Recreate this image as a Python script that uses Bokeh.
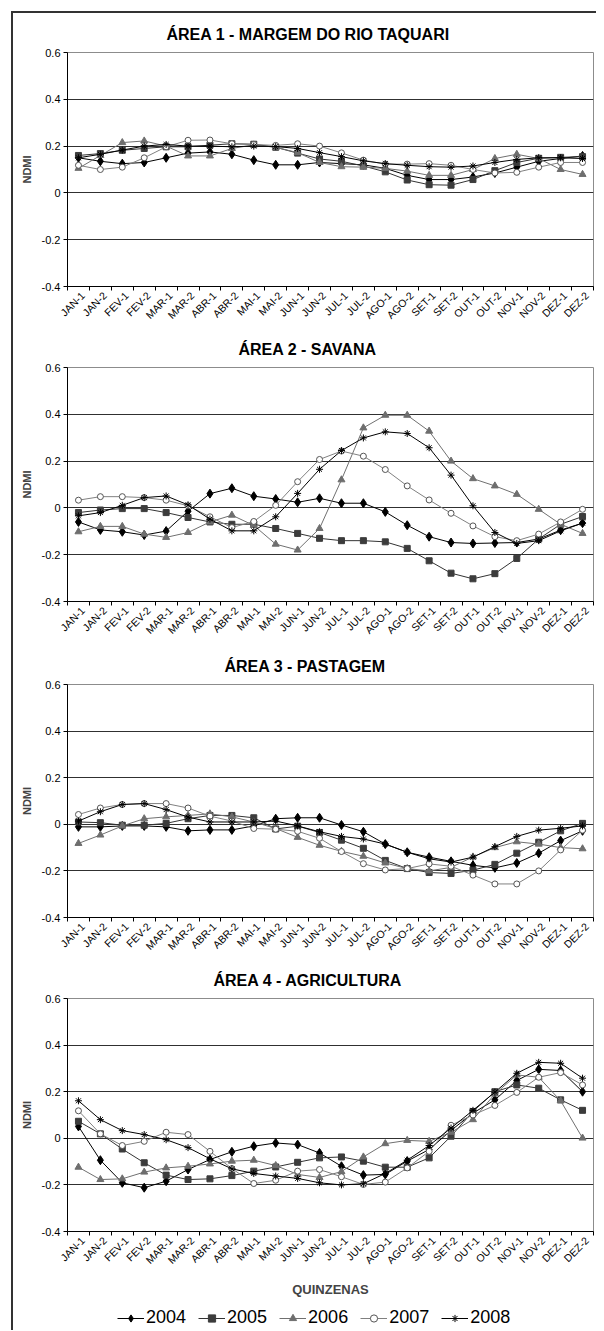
import math
from bokeh.plotting import figure
from bokeh.models import (Range1d, FixedTicker, NumeralTickFormatter, Legend,
                          LegendItem, Title)
from bokeh.layouts import column
from bokeh.embed import file_html
from bokeh.resources import INLINE

quinzenas = ["JAN-1", "JAN-2", "FEV-1", "FEV-2", "MAR-1", "MAR-2", "ABR-1", "ABR-2",
             "MAI-1", "MAI-2", "JUN-1", "JUN-2", "JUL-1", "JUL-2", "AGO-1", "AGO-2",
             "SET-1", "SET-2", "OUT-1", "OUT-2", "NOV-1", "NOV-2", "DEZ-1", "DEZ-2"]
anos = ["2004", "2005", "2006", "2007", "2008"]
y_ticks = [-0.4, -0.2, 0, 0.2, 0.4, 0.6]

titulos = ["ÁREA 1 - MARGEM DO RIO TAQUARI", "ÁREA 2 - SAVANA",
           "ÁREA 3 - PASTAGEM", "ÁREA 4 - AGRICULTURA"]

a1_2004 = [0.150, 0.135, 0.125, 0.130, 0.150, 0.170, 0.175, 0.165, 0.140, 0.120, 0.120, 0.130,
           0.125, 0.120, 0.105, 0.075, 0.057, 0.057, 0.068, 0.085, 0.110, 0.135, 0.147, 0.158]
a1_2005 = [0.160, 0.168, 0.182, 0.190, 0.197, 0.197, 0.204, 0.210, 0.208, 0.195, 0.170, 0.145,
           0.135, 0.115, 0.090, 0.055, 0.035, 0.033, 0.057, 0.095, 0.130, 0.148, 0.152, 0.155]
a1_2006 = [0.105, 0.160, 0.215, 0.222, 0.200, 0.158, 0.158, 0.190, 0.205, 0.195, 0.172, 0.130,
           0.112, 0.110, 0.105, 0.093, 0.075, 0.075, 0.100, 0.147, 0.165, 0.147, 0.100, 0.079]
a1_2007 = [0.118, 0.100, 0.110, 0.150, 0.197, 0.225, 0.226, 0.210, 0.207, 0.203, 0.210, 0.200,
           0.171, 0.140, 0.123, 0.123, 0.125, 0.118, 0.100, 0.085, 0.088, 0.110, 0.130, 0.130]
a1_2008 = [0.150, 0.165, 0.183, 0.200, 0.207, 0.200, 0.200, 0.197, 0.200, 0.198, 0.190, 0.172,
           0.155, 0.137, 0.125, 0.118, 0.112, 0.110, 0.115, 0.130, 0.143, 0.150, 0.150, 0.147]

a2_2004 = [-0.060, -0.094, -0.102, -0.116, -0.099, -0.014, 0.061, 0.084, 0.050, 0.038, 0.024, 0.041,
           0.020, 0.020, -0.017, -0.074, -0.123, -0.148, -0.152, -0.150, -0.148, -0.133, -0.095, -0.065]
a2_2005 = [-0.020, -0.009, -0.003, -0.003, -0.020, -0.041, -0.060, -0.070, -0.070, -0.088, -0.109, -0.130,
           -0.140, -0.140, -0.145, -0.173, -0.226, -0.279, -0.303, -0.281, -0.216, -0.133, -0.070, -0.037]
a2_2006 = [-0.102, -0.079, -0.079, -0.112, -0.126, -0.105, -0.060, -0.031, -0.075, -0.155, -0.180, -0.088,
           0.120, 0.342, 0.396, 0.396, 0.328, 0.200, 0.125, 0.094, 0.058, -0.006, -0.070, -0.109]
a2_2007 = [0.033, 0.048, 0.048, 0.044, 0.033, 0.009, -0.038, -0.084, -0.058, 0.011, 0.112, 0.207,
           0.243, 0.221, 0.164, 0.094, 0.034, -0.023, -0.077, -0.123, -0.140, -0.112, -0.060, -0.006]
a2_2008 = [-0.034, -0.020, 0.011, 0.044, 0.051, 0.013, -0.048, -0.098, -0.098, -0.038, 0.062, 0.165,
           0.245, 0.299, 0.325, 0.318, 0.257, 0.140, 0.009, -0.105, -0.152, -0.140, -0.098, -0.065]

a3_2004 = [-0.011, -0.011, -0.007, -0.007, -0.011, -0.028, -0.024, -0.024, -0.007, 0.024, 0.028, 0.028,
           -0.003, -0.032, -0.085, -0.120, -0.141, -0.159, -0.176, -0.187, -0.166, -0.124, -0.070, -0.028]
a3_2005 = [0.010, 0.007, -0.004, -0.004, 0.004, 0.024, 0.038, 0.038, 0.028, -0.020, -0.008, -0.035,
           -0.068, -0.103, -0.155, -0.190, -0.207, -0.211, -0.197, -0.172, -0.124, -0.077, -0.028, 0.004]
a3_2006 = [-0.082, -0.046, -0.007, 0.024, 0.032, 0.038, 0.045, 0.032, 0.010, -0.018, -0.056, -0.090,
           -0.116, -0.137, -0.166, -0.190, -0.200, -0.185, -0.140, -0.100, -0.075, -0.085, -0.100, -0.105]
a3_2007 = [0.042, 0.070, 0.085, 0.089, 0.089, 0.070, 0.035, 0.014, -0.018, -0.021, -0.030, -0.060,
           -0.117, -0.169, -0.196, -0.190, -0.170, -0.180, -0.218, -0.256, -0.256, -0.200, -0.110, -0.025]
a3_2008 = [0.014, 0.054, 0.085, 0.089, 0.063, 0.031, 0.010, 0.010, 0.010, 0.014, -0.007, -0.032,
           -0.052, -0.063, -0.085, -0.120, -0.148, -0.162, -0.141, -0.096, -0.052, -0.025, -0.017, -0.007]

a4_2004 = [0.051, -0.094, -0.191, -0.212, -0.184, -0.134, -0.091, -0.058, -0.034, -0.020, -0.027, -0.063,
           -0.120, -0.158, -0.155, -0.098, -0.048, 0.034, 0.108, 0.165, 0.248, 0.296, 0.291, 0.200]
a4_2005 = [0.073, 0.019, -0.046, -0.105, -0.158, -0.177, -0.174, -0.160, -0.141, -0.123, -0.103, -0.084,
           -0.080, -0.098, -0.124, -0.124, -0.084, 0.009, 0.115, 0.200, 0.229, 0.215, 0.165, 0.120]
a4_2006 = [-0.124, -0.177, -0.174, -0.145, -0.127, -0.120, -0.110, -0.098, -0.094, -0.117, -0.155, -0.168,
           -0.143, -0.080, -0.023, -0.009, -0.013, 0.026, 0.080, 0.190, 0.272, 0.262, 0.161, 0.001]
a4_2007 = [0.118, 0.019, -0.031, -0.013, 0.026, 0.016, -0.056, -0.130, -0.194, -0.180, -0.141, -0.134,
           -0.165, -0.198, -0.188, -0.127, -0.056, 0.056, 0.100, 0.141, 0.197, 0.262, 0.282, 0.229]
a4_2008 = [0.161, 0.080, 0.033, 0.016, -0.006, -0.040, -0.088, -0.131, -0.151, -0.162, -0.172, -0.191,
           -0.200, -0.195, -0.151, -0.094, -0.031, 0.044, 0.120, 0.198, 0.279, 0.326, 0.322, 0.258]

areas = [
    [a1_2004, a1_2005, a1_2006, a1_2007, a1_2008],
    [a2_2004, a2_2005, a2_2006, a2_2007, a2_2008],
    [a3_2004, a3_2005, a3_2006, a3_2007, a3_2008],
    [a4_2004, a4_2005, a4_2006, a4_2007, a4_2008],
]

# styles per year
estilos = [
    dict(marker="diamond", size=9, line="#000000", mfill="#000000", mline="#000000"),
    dict(marker="square", size=6, line="#333333", mfill="#3c3c3c", mline="#3c3c3c"),
    dict(marker="triangle", size=7, line="#707070", mfill="#6e6e6e", mline="#6e6e6e"),
    dict(marker="circle", size=6, line="#808080", mfill="#ffffff", mline="#555555"),
    dict(marker="asterisk", size=7, line="#000000", mfill="#000000", mline="#000000"),
]

FONT = "Liberation Sans"
xs = [i + 0.5 for i in range(len(quinzenas))]
label_pos = [x + 0.2 for x in xs]

# layout: heights, top/bottom borders, title offsets
alturas = [315, 317, 314, 341]
bordas_top = [39, 39, 39, 39]
bordas_bottom = [42, 44, 41, 68]
offsets_titulo = [99, 171, 157, 146]

figs = []
for k in range(4):
    last = (k == 3)
    t = Title(text=titulos[k], align="left", offset=offsets_titulo[k],
              text_font=FONT, text_font_size="16px", text_font_style="bold",
              text_color="#000000", standoff=19)
    p = figure(width=583, height=alturas[k], output_backend="svg", toolbar_location=None,
               x_range=Range1d(0, len(quinzenas)), y_range=Range1d(-0.4, 0.6),
               min_border_left=54, min_border_right=3,
               min_border_top=bordas_top[k], min_border_bottom=bordas_bottom[k],
               title=t, background_fill_color="white", border_fill_color="white")
    p.outline_line_color = "#8c8c8c"
    p.outline_line_width = 1

    # y axis
    p.yaxis.ticker = FixedTicker(ticks=y_ticks)
    p.yaxis.formatter = NumeralTickFormatter(format="0.[0]")
    p.yaxis.axis_label = "NDMI"
    p.yaxis.axis_label_text_font = FONT
    p.yaxis.axis_label_text_font_size = "11px"
    p.yaxis.axis_label_text_font_style = "bold"
    p.yaxis.axis_label_standoff = 6
    p.yaxis.major_label_text_font = FONT
    p.yaxis.major_label_text_font_size = "11px"
    p.yaxis.major_label_text_color = "#000000"
    p.yaxis.major_label_standoff = 3
    p.yaxis.major_tick_out = 4
    p.yaxis.major_tick_in = 0
    p.yaxis.minor_tick_out = 0
    p.yaxis.minor_tick_in = 0
    p.yaxis.axis_line_color = "#000000"
    p.yaxis.major_tick_line_color = "#000000"

    # x axis: labels near category centers, ticks between categories
    p.xaxis.ticker = FixedTicker(ticks=label_pos, minor_ticks=list(range(len(quinzenas) + 1)))
    p.xaxis.major_label_overrides = {x: q for x, q in zip(label_pos, quinzenas)}
    p.xaxis.major_label_orientation = math.pi / 4
    p.xaxis.major_label_text_font = FONT
    p.xaxis.major_label_text_font_size = "10.5px"
    p.xaxis.major_label_text_color = "#000000"
    p.xaxis.major_label_standoff = 3
    p.xaxis.major_tick_out = 0
    p.xaxis.major_tick_in = 0
    p.xaxis.minor_tick_out = 4
    p.xaxis.minor_tick_in = 0
    p.xaxis.minor_tick_line_color = "#000000"
    p.xaxis.axis_line_color = "#000000"
    if last:
        p.xaxis.axis_label = "QUINZENAS"
        p.xaxis.axis_label_text_font = FONT
        p.xaxis.axis_label_text_font_size = "13px"
        p.xaxis.axis_label_text_font_style = "bold"
        p.xaxis.axis_label_standoff = 9

    # grid
    p.xgrid.visible = False
    p.ygrid.ticker = FixedTicker(ticks=[-0.2, 0, 0.2, 0.4])
    p.ygrid.grid_line_color = "#303030"
    p.ygrid.grid_line_width = 1

    for ano, serie, est in zip(anos, areas[k], estilos):
        p.line(xs, serie, line_color=est["line"], line_width=1)
        p.scatter(xs, serie, marker=est["marker"], size=est["size"],
                  fill_color=est["mfill"], line_color=est["mline"], line_width=1)
    figs.append(p)

# legend strip below the last panel (series drawn outside its visible y range,
# only their legend glyphs show)
lf = figure(width=583, height=30, output_backend="svg", toolbar_location=None,
            x_range=Range1d(0, len(quinzenas)), y_range=Range1d(10, 11),
            x_axis_location=None, y_axis_location=None,
            min_border_left=0, min_border_right=0, min_border_top=0, min_border_bottom=0,
            background_fill_color="white", border_fill_color="white")
lf.outline_line_color = None
lf.xgrid.visible = False
lf.ygrid.visible = False
items = []
for ano, serie, est in zip(anos, areas[3], estilos):
    rl = lf.line(xs, serie, line_color=est["line"], line_width=1)
    rs = lf.scatter(xs, serie, marker=est["marker"], size=est["size"] + 1,
                    fill_color=est["mfill"], line_color=est["mline"], line_width=1)
    items.append(LegendItem(label=ano, renderers=[rl, rs]))
leg = Legend(items=items, orientation="horizontal", location=(50, 2),
             border_line_color=None, background_fill_alpha=0,
             label_text_font=FONT, label_text_font_size="18px",
             label_text_color="#000000",
             glyph_width=27, glyph_height=18, label_standoff=2,
             spacing=12, padding=0, margin=0)
lf.add_layout(leg)
figs.append(lf)

layout = column(*figs, styles={"margin-left": "11px", "margin-top": "11px",
                               "border-left": "2px solid #333333",
                               "border-top": "2px solid #333333"})

open("out.html", "w").write(file_html(layout, INLINE))
